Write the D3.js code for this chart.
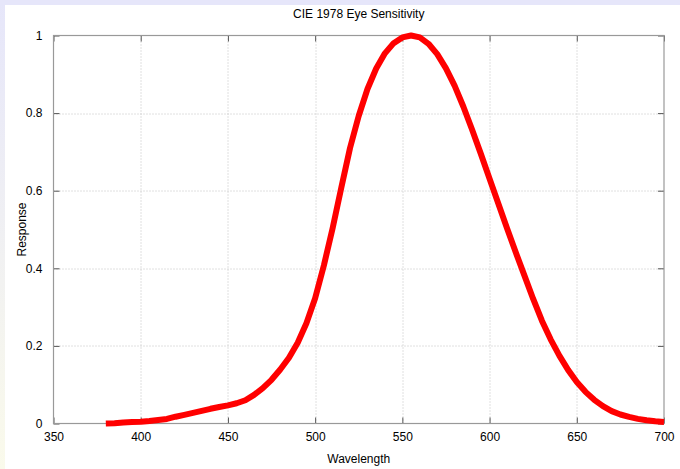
<!DOCTYPE html>
<html>
<head>
<meta charset="utf-8">
<script src="https://cdn.jsdelivr.net/npm/d3@7"></script>
<style>
  html, body { margin: 0; padding: 0; }
  body { width: 680px; height: 469px; overflow: hidden; }
  text { font-family: "Liberation Sans", Arial, sans-serif; fill: #000; }
</style>
</head>
<body>
<div id="chart"></div>
<script>
// CIE 1978 photopic response, every 5 nm
var wavelengths = [380, 385, 390, 395, 400, 405, 410, 415, 420, 425, 430, 435, 440, 445, 450, 455,
    460, 465, 470, 475, 480, 485, 490, 495, 500, 505, 510, 515, 520, 525, 530, 535, 540, 545,
    550, 555, 560, 565, 570, 575, 580, 585, 590, 595, 600, 605, 610, 615, 620, 625, 630, 635,
    640, 645, 650, 655, 660, 665, 670, 675, 680, 685, 690, 695, 700];
var response = [0.0002, 0.0008, 0.0028, 0.0037, 0.0047, 0.0064, 0.0089, 0.0118, 0.0175, 0.0224,
    0.0273, 0.0326, 0.0379, 0.0424, 0.0468, 0.0521, 0.0600, 0.0739, 0.0910, 0.1126, 0.1390,
    0.1693, 0.2080, 0.2586, 0.3230, 0.4073, 0.5030, 0.6082, 0.7100, 0.7932, 0.8620, 0.9149,
    0.9540, 0.9803, 0.9950, 1.0000, 0.9950, 0.9786, 0.9520, 0.9154, 0.8700, 0.8163, 0.7570,
    0.6949, 0.6310, 0.5668, 0.5030, 0.4412, 0.3810, 0.3210, 0.2650, 0.2170, 0.1750, 0.1382,
    0.1070, 0.0816, 0.0610, 0.0446, 0.0320, 0.0232, 0.0170, 0.0119, 0.0082, 0.0057, 0.0041];
var xTicks = [350, 400, 450, 500, 550, 600, 650, 700];
var yTicks = [0, 0.2, 0.4, 0.6, 0.8, 1];

var width = 680, height = 469;
var margin = { top: 35.5, right: 16, bottom: 45.5, left: 53.5 };
var plotW = width - margin.left - margin.right;
var plotH = height - margin.top - margin.bottom;

var svg = d3.select("#chart").append("svg")
    .attr("width", width)
    .attr("height", height);

// background: lavender band on top, lavender -> ivory band on the left
var defs = svg.append("defs");
var grad = defs.append("linearGradient").attr("id", "leftband")
    .attr("x1", 0).attr("y1", 0).attr("x2", 0).attr("y2", 1);
grad.append("stop").attr("offset", "0%").attr("stop-color", "#e6e6fa");
grad.append("stop").attr("offset", "100%").attr("stop-color", "#fafaeb");

svg.append("rect").attr("x", 0).attr("y", 0).attr("width", width).attr("height", height).attr("fill", "url(#leftband)");
svg.append("rect").attr("x", 0).attr("y", 0).attr("width", width).attr("height", 5).attr("fill", "#e6e6fa");
svg.append("rect").attr("x", 5).attr("y", 5).attr("width", width - 5).attr("height", height - 5).attr("fill", "#fff");

var x = d3.scaleLinear().domain([350, 700]).range([0, plotW]);
var y = d3.scaleLinear().domain([0, 1]).range([plotH, 0]);

var g = svg.append("g").attr("transform", "translate(" + margin.left + "," + margin.top + ")");

// grid
g.append("g").selectAll("line")
    .data(xTicks.slice(1, -1))
    .enter().append("line")
    .attr("x1", function (d) { return Math.round(x(d)) + 0.5; })
    .attr("x2", function (d) { return Math.round(x(d)) + 0.5; })
    .attr("y1", 0).attr("y2", plotH)
    .attr("stroke", "#c0c0c0").attr("stroke-dasharray", "1,2");
g.append("g").selectAll("line")
    .data(yTicks.slice(1, -1))
    .enter().append("line")
    .attr("y1", function (d) { return Math.round(y(d)) + 0.5; })
    .attr("y2", function (d) { return Math.round(y(d)) + 0.5; })
    .attr("x1", 0).attr("x2", plotW)
    .attr("stroke", "#c0c0c0").attr("stroke-dasharray", "1,2");

// axes (ticks point inward on all four sides)
var bottomAxis = d3.axisBottom(x).tickValues(xTicks).tickSize(-6).tickPadding(9).tickFormat(d3.format("d"));
var topAxis = d3.axisTop(x).tickValues(xTicks).tickSize(-6).tickFormat("");
var leftAxis = d3.axisLeft(y).tickValues(yTicks).tickSize(-6).tickPadding(11).tickFormat(function (d) { return d; });
var rightAxis = d3.axisRight(y).tickValues(yTicks).tickSize(-6).tickFormat("");

function styleAxis(sel) {
    sel.select(".domain").remove();
    sel.selectAll(".tick line").attr("stroke", "#555");
    sel.selectAll("text").attr("font-size", 12).attr("fill", "#000")
        .attr("font-family", "Liberation Sans, Arial, sans-serif");
}
g.append("g").attr("transform", "translate(0," + plotH + ")").call(bottomAxis).call(styleAxis);
g.append("g").call(topAxis).call(styleAxis);
g.append("g").call(leftAxis).call(styleAxis);
g.append("g").attr("transform", "translate(" + plotW + ",0)").call(rightAxis).call(styleAxis);

g.append("rect")
    .attr("x", 0).attr("y", 0).attr("width", plotW).attr("height", plotH)
    .attr("fill", "none").attr("stroke", "#999").attr("stroke-width", 1.2);

// curve
var points = wavelengths.map(function (w, i) { return [w, response[i]]; });
var line = d3.line()
    .x(function (d) { return x(d[0]); })
    .y(function (d) { return y(d[1]); });
g.append("path")
    .datum(points)
    .attr("d", line)
    .attr("fill", "none")
    .attr("stroke", "#ff0000")
    .attr("stroke-width", 6)
    .attr("stroke-linejoin", "round");

// titles
svg.append("text")
    .attr("x", margin.left + plotW / 2).attr("y", 18)
    .attr("text-anchor", "middle").attr("font-size", 12)
    .text("CIE 1978 Eye Sensitivity");
svg.append("text")
    .attr("x", margin.left + plotW / 2).attr("y", 463)
    .attr("text-anchor", "middle").attr("font-size", 12)
    .text("Wavelength");
svg.append("text")
    .attr("transform", "translate(26," + (margin.top + plotH / 2) + ") rotate(-90)")
    .attr("text-anchor", "middle").attr("font-size", 12)
    .text("Response");
</script>
</body>
</html>
